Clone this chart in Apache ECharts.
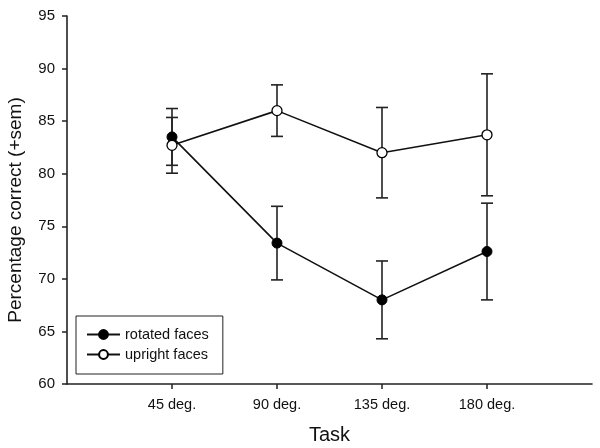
<!DOCTYPE html>
<html><head><meta charset="utf-8">
<script src="https://cdn.jsdelivr.net/npm/echarts@6/dist/echarts.min.js"></script>
<style>html,body{margin:0;padding:0;background:#fff}#c{width:600px;height:448px}</style>
</head><body><div id="c"></div>
<script>
const categories = ['45 deg.', '90 deg.', '135 deg.', '180 deg.'];
const positions = [1, 2, 3, 4];
const rotatedMean = [83.5, 73.4, 68.0, 72.6];
const rotatedSem = [2.7, 3.5, 3.7, 4.6];
const uprightMean = [82.7, 86.0, 82.0, 83.7];
const uprightSem = [2.65, 2.45, 4.3, 5.8];
const yTicks = [60, 65, 70, 75, 80, 85, 90, 95];

const font = 'Liberation Sans, Arial, sans-serif';
function errData(mean, sem) {
  return positions.map((p, i) => [p, mean[i] - sem[i], mean[i] + sem[i]]);
}
function errRender(params, api) {
  const x = api.value(0);
  const lo = api.coord([x, api.value(1)]);
  const hi = api.coord([x, api.value(2)]);
  const w = 6;
  const style = { stroke: '#222', lineWidth: 1.6 };
  return {
    type: 'group',
    children: [
      { type: 'line', shape: { x1: lo[0], y1: lo[1], x2: hi[0], y2: hi[1] }, style },
      { type: 'line', shape: { x1: lo[0] - w, y1: lo[1], x2: lo[0] + w, y2: lo[1] }, style },
      { type: 'line', shape: { x1: hi[0] - w, y1: hi[1], x2: hi[0] + w, y2: hi[1] }, style }
    ]
  };
}
const chart = echarts.init(document.getElementById('c'));
chart.setOption({
  animation: false,
  backgroundColor: '#fff',
  grid: { left: 67, right: 8, top: 16, bottom: 64, containLabel: false, outerBoundsMode: 'none' },
  legend: {
    orient: 'vertical', left: 76, top: 316,
    data: ['rotated faces', 'upright faces'],
    borderColor: '#222', borderWidth: 1, borderRadius: 0,
    padding: [11, 14, 12, 10], itemGap: 5, itemWidth: 33, itemHeight: 11,
    textStyle: { fontFamily: font, fontSize: 14.5, lineHeight: 14, color: '#111' }
  },
  xAxis: {
    type: 'value', min: 0, max: 5, interval: 1,
    name: 'Task', nameLocation: 'middle', nameGap: 41,
    nameTextStyle: { fontFamily: font, fontSize: 20, color: '#111' },
    axisLine: { lineStyle: { color: '#222', width: 1.6 } },
    axisTick: { show: true, length: 5, customValues: positions, lineStyle: { color: '#222', width: 1.5 } },
    axisLabel: {
      customValues: positions, margin: 13,
      formatter: v => categories[positions.indexOf(v)] || '',
      fontFamily: font, fontSize: 14.5, color: '#111'
    },
    splitLine: { show: false }
  },
  yAxis: {
    type: 'value', min: 60, max: 95, interval: 5,
    name: 'Percentage correct (+sem)', nameLocation: 'middle', nameGap: 42,
    nameTextStyle: { fontFamily: font, fontSize: 19, color: '#111', padding: [0, 20, 0, 0] },
    axisLine: { show: true, lineStyle: { color: '#222', width: 1.6 } },
    axisTick: { show: true, length: 5, customValues: yTicks, lineStyle: { color: '#222', width: 1.5 } },
    axisLabel: { customValues: yTicks, fontFamily: font, fontSize: 15, color: '#111', margin: 12 },
    splitLine: { show: false }
  },
  series: [
    { type: 'custom', name: 'errR', renderItem: errRender, data: errData(rotatedMean, rotatedSem), z: 1, silent: true },
    { type: 'custom', name: 'errU', renderItem: errRender, data: errData(uprightMean, uprightSem), z: 1, silent: true },
    {
      type: 'line', name: 'rotated faces',
      data: positions.map((p, i) => [p, rotatedMean[i]]),
      symbol: 'circle', symbolSize: 10,
      lineStyle: { color: '#111', width: 1.6 },
      itemStyle: { color: '#000', borderColor: '#000', borderWidth: 1 },
      z: 3
    },
    {
      type: 'line', name: 'upright faces',
      data: positions.map((p, i) => [p, uprightMean[i]]),
      symbol: 'circle', symbolSize: 10,
      lineStyle: { color: '#111', width: 1.6 },
      itemStyle: { color: '#fff', borderColor: '#000', borderWidth: 1.3 },
      z: 4
    }
  ]
});
</script></body></html>
